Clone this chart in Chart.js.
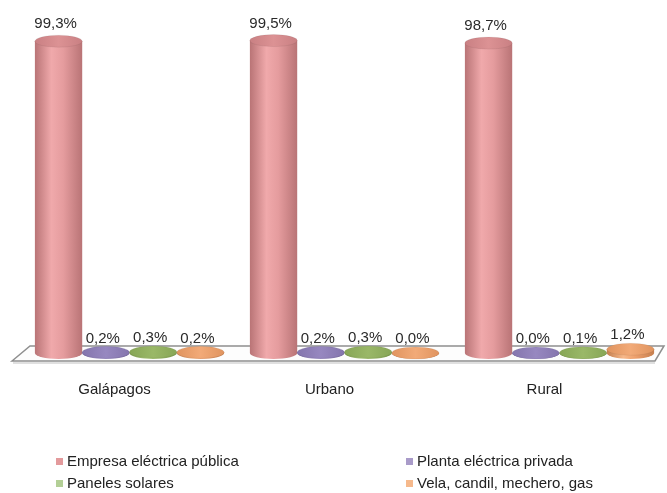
<!DOCTYPE html>
<html>
<head>
<meta charset="utf-8">
<script src="https://cdn.jsdelivr.net/npm/chart.js@4"></script>
<style>
  html,body{margin:0;padding:0;background:#fff;}
  #wrap{position:relative;width:667px;height:493px;}
  #c{position:absolute;left:0;top:0;}
  .lg{position:absolute;font-family:"Liberation Sans",Arial,sans-serif;font-size:15px;color:#222;white-space:nowrap;line-height:18px;}
  .lg span.sw{display:inline-block;width:7px;height:7px;margin-right:4px;vertical-align:1px;}
</style>
</head>
<body>
<div id="wrap">
<canvas id="c" width="667" height="493"></canvas>
</div>
<script>
const categories = ["Galápagos", "Urbano", "Rural"];
const seriesNames = ["Empresa eléctrica pública", "Planta eléctrica privada", "Paneles solares", "Vela, candil, mechero, gas"];
const empresaPublica = [99.3, 99.5, 98.7];
const plantaPrivada = [0.2, 0.2, 0.0];
const panelesSolares = [0.3, 0.3, 0.1];
const velaCandil = [0.2, 0.0, 1.2];

const palettes = [
  {dark:"#b97476", mid:"#e59c9e", light:"#f0a9ab", top:"#c98083", topMid:"#dc9294", legend:"#e39a9c"},
  {dark:"#7a6ca3", mid:"#9a8bc2", light:"#ab9dd0", top:"#8475ad", topMid:"#9788c0", legend:"#a99bc9"},
  {dark:"#7c9a4e", mid:"#9dbb6b", light:"#afcb80", top:"#87a656", topMid:"#9ab868", legend:"#b3cf96"},
  {dark:"#c57f4f", mid:"#eea06c", light:"#f7b88a", top:"#e0945f", topMid:"#f2aa78", legend:"#f6b98c"}
];

const seriesData = [empresaPublica, plantaPrivada, panelesSolares, velaCandil];

const fmt = v => v.toFixed(1).replace('.', ',') + '%';

const floorPlugin = {
  id: 'floor',
  beforeDatasetsDraw(chart) {
    const ctx = chart.ctx, a = chart.chartArea;
    const base = chart.scales.y.getPixelForValue(0);
    const back = base - 7, front = base + 8;
    ctx.save();
    ctx.beginPath();
    ctx.moveTo(a.left - 10, front);
    ctx.lineTo(a.left + 8, back);
    ctx.lineTo(a.right - 3, back);
    ctx.lineTo(a.right - 12, front);
    ctx.closePath();
    ctx.fillStyle = '#fdfdfd';
    ctx.fill();
    ctx.strokeStyle = '#8f8f8f';
    ctx.lineWidth = 1.5;
    ctx.stroke();
    ctx.beginPath();
    ctx.moveTo(a.left - 9, front + 2);
    ctx.lineTo(a.right - 12, front + 2);
    ctx.strokeStyle = 'rgba(0,0,0,0.12)';
    ctx.lineWidth = 2;
    ctx.stroke();
    ctx.restore();
  }
};

const cylPlugin = {
  id: 'cyl',
  afterDatasetsDraw(chart) {
    const ctx = chart.ctx;
    chart.data.datasets.forEach((ds, di) => {
      const meta = chart.getDatasetMeta(di);
      const p = palettes[di];
      meta.data.forEach((el, i) => {
        const x = el.x, top = el.y, base = el.base, w = el.width;
        const rx = w / 2, ry = 6;
        const l = x - rx, r = x + rx;
        const g = ctx.createLinearGradient(l, 0, r, 0);
        g.addColorStop(0, p.dark);
        g.addColorStop(0.35, p.light);
        g.addColorStop(0.6, p.mid);
        g.addColorStop(1, p.dark);
        ctx.save();
        // body + bottom
        ctx.beginPath();
        ctx.moveTo(l, top);
        ctx.lineTo(l, base);
        ctx.ellipse(x, base, rx, ry, 0, Math.PI, 0, true);
        ctx.lineTo(r, top);
        ctx.closePath();
        ctx.fillStyle = g;
        ctx.fill();
        // top
        const tg = ctx.createLinearGradient(l, 0, r, 0);
        tg.addColorStop(0, p.top);
        tg.addColorStop(0.5, p.topMid);
        tg.addColorStop(1, p.top);
        ctx.beginPath();
        ctx.ellipse(x, top, rx, ry, 0, 0, Math.PI * 2);
        ctx.fillStyle = tg;
        ctx.fill();
        ctx.strokeStyle = 'rgba(0,0,0,0.06)';
        ctx.lineWidth = 1;
        ctx.stroke();
        // label
        ctx.fillStyle = '#2a2a2a';
        ctx.font = '15px "Liberation Sans", Arial, sans-serif';
        ctx.textAlign = 'center';
        ctx.textBaseline = 'middle';
        const small = ds.data[i] < 5;
        ctx.fillText(fmt(ds.data[i]), x - 3, top - (small ? 14 : 17));
        ctx.restore();
      });
    });
  }
};

const chart = new Chart(document.getElementById('c'), {
  type: 'bar',
  data: {
    labels: categories,
    datasets: seriesNames.map((n, i) => ({
      label: n,
      data: seriesData[i],
      backgroundColor: 'rgba(0,0,0,0)',
      borderWidth: 0,
      categoryPercentage: 0.88,
      barPercentage: 1.0
    }))
  },
  options: {
    responsive: false,
    animation: false,
    events: [],
    layout: { padding: { top: 39, left: 22, right: 0, bottom: 0 } },
    plugins: { legend: { display: false }, tooltip: { enabled: false } },
    scales: {
      y: { display: false, min: 0, max: 100 },
      x: {
        grid: { display: false },
        border: { display: false },
        afterFit: s => { s.height = 140; },
        ticks: {
          padding: 20,
          labelOffset: -15,
          color: '#222',
          font: { family: '"Liberation Sans", Arial, sans-serif', size: 15 }
        }
      }
    }
  },
  plugins: [floorPlugin, cylPlugin]
});

// HTML legend built from the series names
const legendPos = [[56, 452], [406, 452], [56, 474], [406, 474]];
const wrap = document.getElementById('wrap');
seriesNames.forEach((n, i) => {
  const d = document.createElement('div');
  d.className = 'lg';
  d.style.left = legendPos[i][0] + 'px';
  d.style.top = legendPos[i][1] + 'px';
  const sw = document.createElement('span');
  sw.className = 'sw';
  sw.style.background = palettes[i].legend;
  d.appendChild(sw);
  d.appendChild(document.createTextNode(n));
  wrap.appendChild(d);
});
</script>
</body>
</html>
